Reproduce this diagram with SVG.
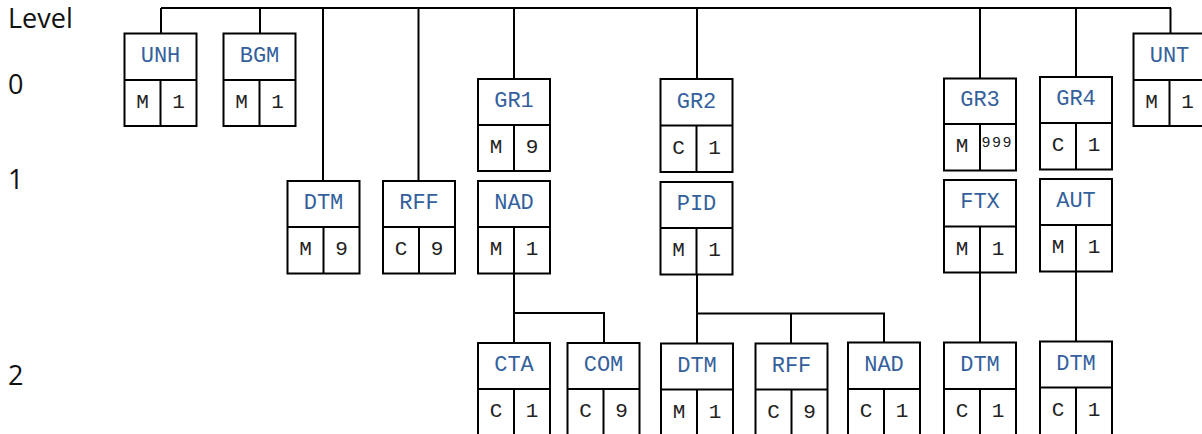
<svg xmlns="http://www.w3.org/2000/svg" width="1202" height="434" viewBox="0 0 1202 434">
<style>
.box{fill:#fff;stroke:#000;stroke-width:2}
.in{fill:none;stroke:#000;stroke-width:2}
.con{fill:none;stroke:#000;stroke-width:2}
.hd{font-family:"Courier New","Nimbus Mono PS","FreeMono","Liberation Mono",monospace;font-size:22px;fill:#34619c;text-anchor:middle}
.cell{font-family:"Courier New","Nimbus Mono PS","FreeMono","Liberation Mono",monospace;font-size:21px;fill:#222;text-anchor:middle}
.sm{font-family:"Courier New","Nimbus Mono PS","FreeMono","Liberation Mono",monospace;font-size:15px;fill:#222;letter-spacing:1.5px}
.lvl{font-family:"Open Sans","Noto Sans",sans-serif;font-size:27px;fill:#111}
</style>
<rect width="1202" height="434" fill="#fff"/>
<g id="levels">
<text class="lvl" x="8" y="28">Level</text>
<text class="lvl" x="8" y="94">0</text>
<text class="lvl" x="8" y="189">1</text>
<text class="lvl" x="8" y="385">2</text>
</g>
<g id="connectors">
<path class="con" d="M161 8H1171M161 8V33.5M260 8V33.5M323 8V181M418.5 8V181M514 8V79M697 8V79M980 8V78.5M1076 8V77M1170.5 8V33.5"/>
<path class="con" d="M514 273.5V313H604V343M514 313V343"/>
<path class="con" d="M697 274.5V313.5H884V342.5M697 313.5V343.5M791 313.5V343.5"/>
<path class="con" d="M980 272.5V342.5M1076 271.5V341.5"/>
</g>
<g id="UNH">
<rect class="box" x="124.5" y="33.5" width="72" height="92.5"/>
<path class="in" d="M124.5 80H196.5M160.5 80V126"/>
<text class="hd" x="160.5" y="62">UNH</text>
<text class="cell" x="142.5" y="108">M</text><text class="cell" x="178.5" y="108">1</text>
</g>
<g id="BGM">
<rect class="box" x="223.5" y="33.5" width="72" height="92.5"/>
<path class="in" d="M223.5 80H295.5M259.5 80V126"/>
<text class="hd" x="259.5" y="62">BGM</text>
<text class="cell" x="241.5" y="108">M</text><text class="cell" x="277.5" y="108">1</text>
</g>
<g id="UNT">
<rect class="box" x="1133.5" y="33.5" width="72" height="92.5"/>
<path class="in" d="M1133.5 80H1205.5M1169.5 80V126"/>
<text class="hd" x="1169.5" y="62">UNT</text>
<text class="cell" x="1151.5" y="108">M</text><text class="cell" x="1187.5" y="108">1</text>
</g>
<g id="GR1">
<rect class="box" x="478" y="79" width="72" height="92"/>
<path class="in" d="M478 125H550M514 125V171"/>
<text class="hd" x="514" y="107">GR1</text>
<text class="cell" x="496" y="153">M</text><text class="cell" x="532" y="153">9</text>
</g>
<g id="GR2">
<rect class="box" x="660.5" y="79" width="72" height="93"/>
<path class="in" d="M660.5 125.5H732.5M696.5 125.5V172"/>
<text class="hd" x="696.5" y="107.5">GR2</text>
<text class="cell" x="678.5" y="154">C</text><text class="cell" x="714.5" y="154">1</text>
</g>
<g id="GR3">
<rect class="box" x="944" y="78.5" width="72" height="92"/>
<path class="in" d="M944 124H1016M980 124V170.5"/>
<text class="hd" x="980" y="106">GR3</text>
<text class="cell" x="962" y="152">M</text><text class="sm" x="981.5" y="147">999</text>
</g>
<g id="GR4">
<rect class="box" x="1040" y="77" width="72" height="92.5"/>
<path class="in" d="M1040 123H1112M1076 123V169.5"/>
<text class="hd" x="1076" y="105">GR4</text>
<text class="cell" x="1058" y="151">C</text><text class="cell" x="1094" y="151">1</text>
</g>
<g id="DTM1">
<rect class="box" x="287.5" y="181" width="72" height="92.5"/>
<path class="in" d="M287.5 227H359.5M323.5 227V273.5"/>
<text class="hd" x="323.5" y="209">DTM</text>
<text class="cell" x="305.5" y="255">M</text><text class="cell" x="341.5" y="255">9</text>
</g>
<g id="RFF1">
<rect class="box" x="383" y="181" width="72" height="92.5"/>
<path class="in" d="M383 227H455M419 227V273.5"/>
<text class="hd" x="419" y="209">RFF</text>
<text class="cell" x="401" y="255">C</text><text class="cell" x="437" y="255">9</text>
</g>
<g id="NAD1">
<rect class="box" x="478" y="181" width="72" height="92.5"/>
<path class="in" d="M478 227H550M514 227V273.5"/>
<text class="hd" x="514" y="209">NAD</text>
<text class="cell" x="496" y="255">M</text><text class="cell" x="532" y="255">1</text>
</g>
<g id="PID">
<rect class="box" x="660.5" y="182" width="72" height="92.5"/>
<path class="in" d="M660.5 228H732.5M696.5 228V274.5"/>
<text class="hd" x="696.5" y="210">PID</text>
<text class="cell" x="678.5" y="256">M</text><text class="cell" x="714.5" y="256">1</text>
</g>
<g id="FTX">
<rect class="box" x="944" y="180" width="72" height="92.5"/>
<path class="in" d="M944 226.5H1016M980 226.5V272.5"/>
<text class="hd" x="980" y="208">FTX</text>
<text class="cell" x="962" y="254.5">M</text><text class="cell" x="998" y="254.5">1</text>
</g>
<g id="AUT">
<rect class="box" x="1040" y="179" width="72" height="92.5"/>
<path class="in" d="M1040 225H1112M1076 225V271.5"/>
<text class="hd" x="1076" y="207">AUT</text>
<text class="cell" x="1058" y="253">M</text><text class="cell" x="1094" y="253">1</text>
</g>
<g id="CTA">
<rect class="box" x="478" y="343" width="72" height="95"/>
<path class="in" d="M478 389H550M514 389V440"/>
<text class="hd" x="514" y="371">CTA</text>
<text class="cell" x="496" y="417">C</text><text class="cell" x="532" y="417">1</text>
</g>
<g id="COM">
<rect class="box" x="567.5" y="343" width="72" height="95"/>
<path class="in" d="M567.5 389H639.5M603.5 389V440"/>
<text class="hd" x="603.5" y="371">COM</text>
<text class="cell" x="585.5" y="417">C</text><text class="cell" x="621.5" y="417">9</text>
</g>
<g id="DTM2a">
<rect class="box" x="661" y="343.5" width="72" height="95"/>
<path class="in" d="M661 389.5H733M697 389.5V440"/>
<text class="hd" x="697" y="371.5">DTM</text>
<text class="cell" x="679" y="417.5">M</text><text class="cell" x="715" y="417.5">1</text>
</g>
<g id="RFF2">
<rect class="box" x="755.5" y="343.5" width="72" height="95"/>
<path class="in" d="M755.5 389.5H827.5M791.5 389.5V440"/>
<text class="hd" x="791.5" y="371.5">RFF</text>
<text class="cell" x="773.5" y="417.5">C</text><text class="cell" x="809.5" y="417.5">9</text>
</g>
<g id="NAD2">
<rect class="box" x="848" y="342.5" width="72" height="95"/>
<path class="in" d="M848 389H920M884 389V440"/>
<text class="hd" x="884" y="370.5">NAD</text>
<text class="cell" x="866" y="417">C</text><text class="cell" x="902" y="417">1</text>
</g>
<g id="DTM2b">
<rect class="box" x="944" y="342.5" width="72" height="95"/>
<path class="in" d="M944 389H1016M980 389V440"/>
<text class="hd" x="980" y="370.5">DTM</text>
<text class="cell" x="962" y="417">C</text><text class="cell" x="998" y="417">1</text>
</g>
<g id="DTM2c">
<rect class="box" x="1040" y="341.5" width="72" height="95"/>
<path class="in" d="M1040 387.5H1112M1076 387.5V440"/>
<text class="hd" x="1076" y="369.5">DTM</text>
<text class="cell" x="1058" y="415.5">C</text><text class="cell" x="1094" y="415.5">1</text>
</g>
</svg>
